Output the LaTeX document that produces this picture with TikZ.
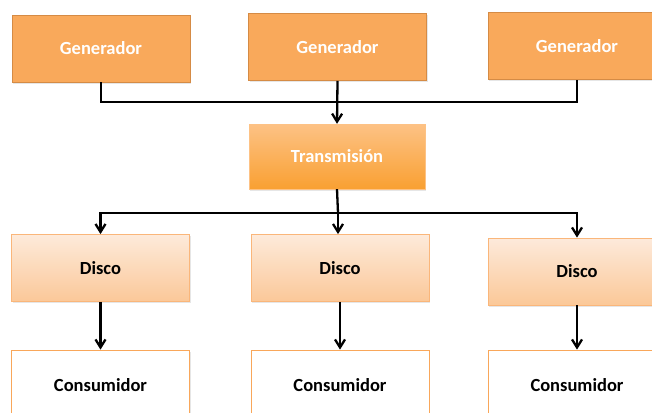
\documentclass[tikz,border=0pt]{standalone}
\usepackage{fontspec}
\setmainfont{Carlito}
\usepackage{tikz}
\usetikzlibrary{arrows.meta,shadows}

\definecolor{genfill}{HTML}{F9A95B}
\definecolor{genline}{HTML}{D58B45}
\definecolor{trtop}{HTML}{FDC285}
\definecolor{trbot}{HTML}{F9A032}
\definecolor{dtop}{HTML}{FDEADB}
\definecolor{dbot}{HTML}{FBC898}
\definecolor{dline}{HTML}{FAB67A}
\definecolor{cline}{HTML}{F9A75A}

\begin{document}
\begin{tikzpicture}[x=1pt,y=1pt,font=\fontsize{18.5}{22}\selectfont\bfseries,
  box/.style={rectangle,inner sep=0pt,minimum width=178pt,minimum height=67pt,
    drop shadow={opacity=0.2,shadow xshift=1pt,shadow yshift=-1.5pt}},
  gen/.style={box,fill=genfill,draw=genline,line width=0.8pt,text=white},
  trans/.style={box,top color=trtop,bottom color=trbot,draw=trtop,minimum width=176pt,
    minimum height=65pt,text=white},
  disco/.style={box,top color=dtop,bottom color=dbot,draw=dline,line width=0.8pt},
  consumer/.style={box,fill=white,draw=cline,line width=0.8pt,minimum height=70pt},
  link/.style={line width=2.3pt,black},
  arrow/.style={link,-{Straight Barb[length=8pt,width=10pt,line width=2.3pt]}}]
\useasboundingbox (0,0) rectangle (652,-412);

\node[gen] (gen1) at (101,-48.5) {Generador};
\node[gen] (gen2) at (337.5,-47) {Generador};
\node[gen] (gen3) at (577,-46) {Generador};

\node[trans] (trans) at (337,-156.5) {Transmisión};

\node[disco] (disco1) at (100.5,-268) {Disco};
\node[disco] (disco2) at (340,-268) {Disco};
\node[disco] (disco3) at (577,-271.5) {Disco};

\node[consumer] (cons1) at (100.5,-385) {Consumidor};
\node[consumer] (cons2) at (340,-385) {Consumidor};
\node[consumer] (cons3) at (577,-385) {Consumidor};

% generators to transmission
\coordinate (upper bus) at (338,-102);
\draw[link] (gen1.south) |- (upper bus) -| (gen3.south);
\draw[arrow] (gen2.south) -- (trans.north);

% transmission to the discs
\coordinate (lower bus) at (338,-213);
\draw[link] (trans.south) -- (lower bus);
\draw[arrow] (lower bus) -| (disco1.north);
\draw[arrow] (lower bus) -| (disco3.north);
\draw[arrow] (lower bus) -- (lower bus |- disco2.north);

% discs to consumers
\draw[arrow] (disco1.south) -- (cons1.north);
\draw[arrow] (disco2.south) -- (cons2.north);
\draw[arrow] (disco3.south) -- (cons3.north);
\end{tikzpicture}
\end{document}
